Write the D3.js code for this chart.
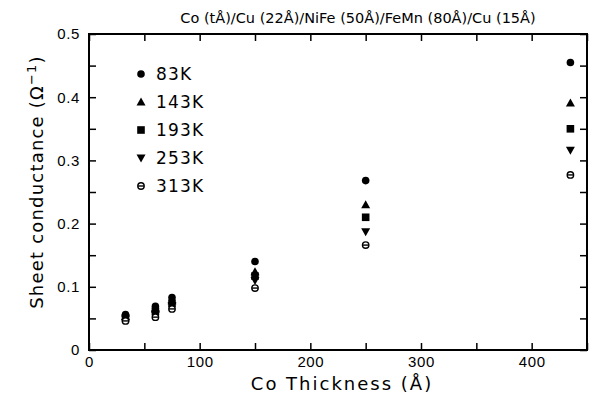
<!DOCTYPE html>
<html>
<head>
<meta charset="utf-8">
<script src="https://cdn.jsdelivr.net/npm/d3@7"></script>
<style>
  body { margin: 0; background: #fff; }
  svg { font-family: "DejaVu Sans", sans-serif; }
</style>
</head>
<body>
<svg id="chart" width="591" height="397"></svg>
<script>
// Co thickness (Å) and sheet conductance (1/Ω) for each temperature
var thickness = [33, 60, 75, 150, 250, 435];
var temps = ["83K", "143K", "193K", "253K", "313K"];
var g83 = [0.056, 0.069, 0.083, 0.140, 0.268, 0.455];
var g143 = [0.053, 0.065, 0.078, 0.124, 0.230, 0.391];
var g193 = [0.051, 0.061, 0.074, 0.117, 0.210, 0.350];
var g253 = [0.049, 0.057, 0.070, 0.110, 0.187, 0.316];
var g313 = [0.046, 0.052, 0.065, 0.098, 0.166, 0.277];
var xTicks = [0, 50, 100, 150, 200, 250, 300, 350, 400, 450];
var yTicks = [0, 0.05, 0.1, 0.15, 0.2, 0.25, 0.3, 0.35, 0.4, 0.45, 0.5];

var series = [g83, g143, g193, g253, g313];
var shapes = ["circle", "triangle", "square", "down", "theta"];

var svg = d3.select("#chart");
var margin = {top: 34, right: 4, bottom: 47, left: 89};
var width = 591 - margin.left - margin.right;
var height = 397 - margin.top - margin.bottom;

var x = d3.scaleLinear().domain([0, 450]).range([0, width]);
var y = d3.scaleLinear().domain([0, 0.5]).range([height, 0]);

var g = svg.append("g").attr("transform", "translate(" + margin.left + "," + margin.top + ")");

function styleAxis(sel) {
  sel.select(".domain").remove();
  sel.selectAll("line").attr("stroke", "#000").attr("stroke-width", 1.5);
  sel.selectAll("text").attr("font-size", 15).attr("letter-spacing", 0.6).attr("fill", "#000");
}

g.append("g")
  .attr("transform", "translate(0," + height + ")")
  .call(d3.axisBottom(x).tickValues(xTicks).tickSizeInner(-7).tickSizeOuter(0).tickPadding(6)
    .tickFormat(function(d) { return d % 100 === 0 ? d : ""; }))
  .call(styleAxis);

g.append("g")
  .call(d3.axisTop(x).tickValues(xTicks).tickSizeInner(-7).tickSizeOuter(0).tickFormat(""))
  .call(styleAxis);

g.append("g")
  .call(d3.axisLeft(y).tickValues(yTicks).tickSizeInner(-7).tickSizeOuter(0).tickPadding(9)
    .tickFormat(function(d) { return Math.round(d * 100) % 10 === 0 ? d3.format("~g")(d) : ""; }))
  .call(styleAxis);

g.append("g")
  .attr("transform", "translate(" + width + ",0)")
  .call(d3.axisRight(y).tickValues(yTicks).tickSizeInner(-7).tickSizeOuter(0).tickFormat(""))
  .call(styleAxis);

g.append("rect")
  .attr("width", width).attr("height", height)
  .attr("fill", "none").attr("stroke", "#000").attr("stroke-width", 2);

function drawMarker(sel, shape) {
  if (shape === "circle") {
    sel.append("circle").attr("r", 3.8).attr("fill", "#000");
  } else if (shape === "triangle") {
    sel.append("path").attr("d", "M0,-4.5L4.5,3.5L-4.5,3.5Z").attr("fill", "#000");
  } else if (shape === "square") {
    sel.append("rect").attr("x", -3.8).attr("y", -3.8).attr("width", 7.6).attr("height", 7.6).attr("fill", "#000");
  } else if (shape === "down") {
    sel.append("path").attr("d", "M0,4.5L4.5,-3.5L-4.5,-3.5Z").attr("fill", "#000");
  } else {
    sel.append("circle").attr("r", 3.2).attr("fill", "#fff").attr("stroke", "#000").attr("stroke-width", 1.4);
    sel.append("line").attr("x1", -3).attr("x2", 3).attr("stroke", "#000").attr("stroke-width", 1.4);
  }
}

series.forEach(function(vals, k) {
  g.append("g").selectAll("g")
    .data(vals)
    .enter().append("g")
    .attr("transform", function(d, i) { return "translate(" + x(thickness[i]) + "," + y(d) + ")"; })
    .each(function() { drawMarker(d3.select(this), shapes[k]); });
});

// legend
var legend = svg.append("g").selectAll("g")
  .data(temps)
  .enter().append("g")
  .attr("transform", function(d, i) { return "translate(141," + (74 + i * 28) + ")"; });

legend.each(function(d, i) { drawMarker(d3.select(this), shapes[i]); });
legend.append("text")
  .attr("x", 15).attr("dy", "0.36em")
  .attr("font-size", 17).attr("letter-spacing", 1.2)
  .text(function(d) { return d; });

svg.append("text")
  .attr("x", 358).attr("y", 23)
  .attr("text-anchor", "middle").attr("font-size", 14.5)
  .text("Co (tÅ)/Cu (22Å)/NiFe (50Å)/FeMn (80Å)/Cu (15Å)");

svg.append("text")
  .attr("x", 342).attr("y", 390)
  .attr("text-anchor", "middle").attr("font-size", 18).attr("letter-spacing", 2)
  .text("Co Thickness (Å)");

svg.append("text")
  .attr("transform", "translate(43,182) rotate(-90)")
  .attr("text-anchor", "middle").attr("font-size", 18).attr("letter-spacing", 1.2)
  .text("Sheet conductance (Ω")
  .append("tspan").attr("dy", -7).attr("font-size", 13).text("−1")
  .select(function() { return this.parentNode; })
  .append("tspan").attr("dy", 7).text(")");
</script>
</body>
</html>
